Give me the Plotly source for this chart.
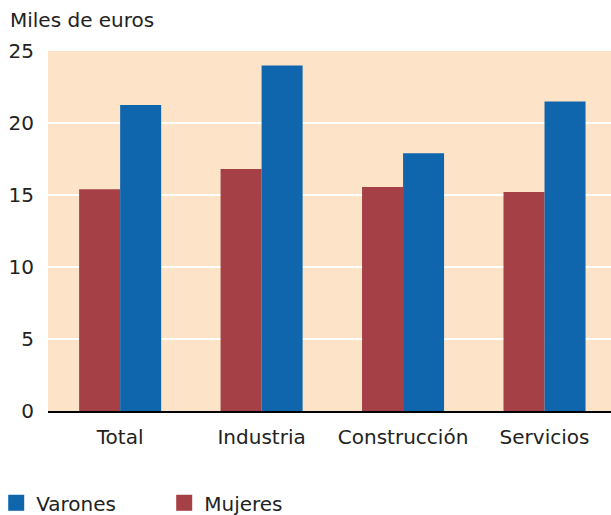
import plotly.graph_objects as go

categories = ["Total", "Industria", "Construcción", "Servicios"]
mujeres = [15.4, 16.8, 15.55, 15.2]
varones = [21.25, 24.0, 17.9, 21.5]
y_ticks = [0, 5, 10, 15, 20, 25]

RED = "#A54046"
BLUE = "#1066AD"
BG = "#FDE3C8"
FONT = "DejaVu Sans, Liberation Sans, sans-serif"
FS = 20

fig = go.Figure()
fig.add_trace(go.Bar(x=categories, y=mujeres, marker=dict(color=RED, line=dict(width=0)),
                     name="Mujeres", showlegend=False))
fig.add_trace(go.Bar(x=categories, y=varones, marker=dict(color=BLUE, line=dict(width=0)),
                     name="Varones", showlegend=False))
# legend entries
fig.add_trace(go.Scatter(x=[None], y=[None], mode="markers", name="Varones",
                         marker=dict(symbol="square", size=17, color=BLUE)))
fig.add_trace(go.Scatter(x=[None], y=[None], mode="markers", name="Mujeres",
                         marker=dict(symbol="square", size=17, color=RED)))

fig.update_layout(
    width=611, height=515,
    margin=dict(l=48, r=0, t=51, b=104, autoexpand=False),
    paper_bgcolor="white", plot_bgcolor=BG,
    font=dict(family=FONT, size=FS, color="#222"),
    barmode="group", bargap=0.42, bargroupgap=0,
    title=dict(text="Miles de euros", x=10/611, xanchor="left", xref="container",
               y=1-20/515, yanchor="middle", yref="container",
               font=dict(family=FONT, size=FS, color="#222")),
    legend=dict(orientation="h", x=-0.092, xanchor="left", y=-0.255, yanchor="middle",
                entrywidth=123, entrywidthmode="pixels", itemclick=False,
                font=dict(family=FONT, size=FS, color="#222"), bgcolor="rgba(0,0,0,0)"),
    xaxis=dict(range=[-0.51, 3.47], showgrid=False, showline=True, linecolor="black",
               linewidth=2, ticks="outside", ticklen=7, tickcolor="rgba(0,0,0,0)",
               fixedrange=True, automargin=False),
    yaxis=dict(range=[0, 25], tickvals=y_ticks, showgrid=True, gridcolor="white",
               gridwidth=2, zeroline=False, showline=False, ticks="outside", ticklen=9,
               tickcolor="rgba(0,0,0,0)", fixedrange=True, automargin=False),
)
fig.write_html("out.html", config={"displayModeBar": False},
               post_script="document.body.style.margin='0';document.body.style.overflow='hidden';")
